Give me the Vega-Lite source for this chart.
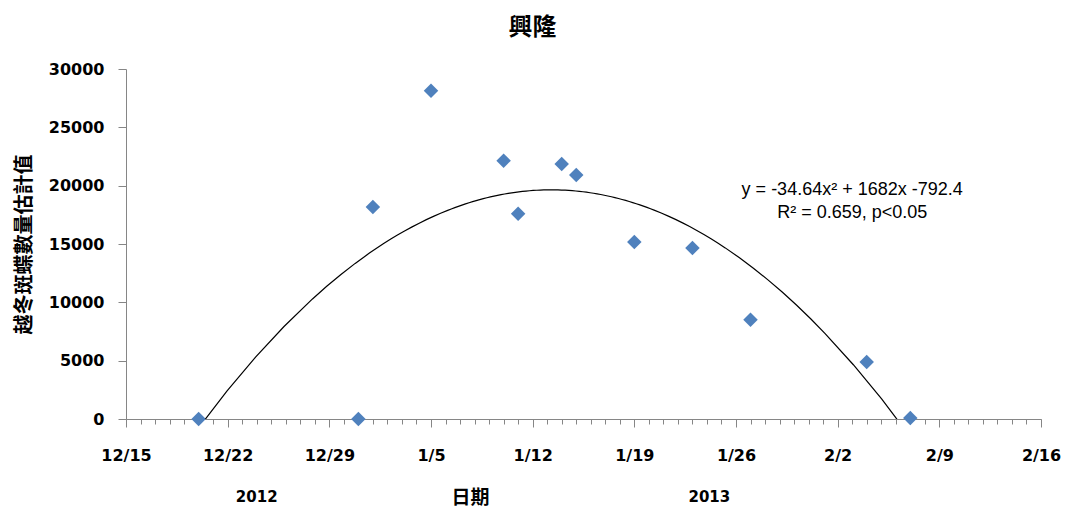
{
  "$schema": "https://vega.github.io/schema/vega-lite/v6.json",
  "width": 915,
  "height": 350,
  "autosize": {"type": "none"},
  "padding": {"left": 126, "top": 69, "right": 26, "bottom": 90},
  "background": "white",
  "config": {"view": {"stroke": null}},
  "title": {
    "text": "興隆",
    "font": "Noto Sans CJK TC",
    "fontSize": 24,
    "fontWeight": "bold",
    "color": "black",
    "dx": -51,
    "baseline": "middle",
    "offset": 9
  },
  "data": {
    "values": [
      {"date": "2012/12/20", "count": 0},
      {"date": "2012/12/31", "count": 0},
      {"date": "2013/01/01", "count": 18170},
      {"date": "2013/01/05", "count": 28140},
      {"date": "2013/01/10", "count": 22140},
      {"date": "2013/01/11", "count": 17600},
      {"date": "2013/01/14", "count": 21860},
      {"date": "2013/01/15", "count": 20910},
      {"date": "2013/01/19", "count": 15170},
      {"date": "2013/01/23", "count": 14660},
      {"date": "2013/01/27", "count": 8510},
      {"date": "2013/02/04", "count": 4890},
      {"date": "2013/02/07", "count": 90}
    ],
    "format": {"parse": {"date": "date"}}
  },
  "resolve": {"axis": {"x": "independent"}},
  "layer": [
    {
      "mark": {"type": "point", "shape": "diamond", "filled": true, "size": 210, "color": "#4F81BD", "opacity": 1},
      "encoding": {
        "x": {
          "field": "date",
          "type": "temporal",
          "scale": {
            "domain": [
              {"year": 2012, "month": 12, "date": 15},
              {"year": 2013, "month": 2, "date": 16}
            ],
            "nice": false
          },
          "axis": {
            "orient": "bottom",
            "tickCount": {"interval": "day", "step": 1},
            "labels": false,
            "tickSize": 5,
            "domainColor": "#868686",
            "tickColor": "#868686",
            "grid": false,
            "title": null
          }
        },
        "y": {
          "field": "count",
          "type": "quantitative",
          "scale": {"domain": [0, 30000], "nice": false},
          "axis": {
            "values": [0, 5000, 10000, 15000, 20000, 25000, 30000],
            "format": "d",
            "tickSize": 8,
            "labelPadding": 14,
            "labelFont": "DejaVu Sans",
            "labelFontWeight": "bold",
            "labelFontSize": 16,
            "labelColor": "black",
            "title": "越冬斑蝶數量估計值",
            "titleFont": "Noto Sans CJK TC",
            "titleFontSize": 20,
            "titleFontWeight": "bold",
            "titleColor": "black",
            "titlePadding": 14,
            "grid": false,
            "domainColor": "#868686",
            "tickColor": "#868686"
          }
        }
      }
    },
    {
      "transform": [
        {"regression": "count", "on": "date", "method": "poly", "order": 2}
      ],
      "mark": {"type": "line", "color": "black", "strokeWidth": 1.2, "clip": true},
      "encoding": {
        "x": {
          "field": "date",
          "type": "temporal",
          "axis": {
            "orient": "bottom",
            "values": [
              {"year": 2012, "month": 12, "date": 15},
              {"year": 2012, "month": 12, "date": 22},
              {"year": 2012, "month": 12, "date": 29},
              {"year": 2013, "month": 1, "date": 5},
              {"year": 2013, "month": 1, "date": 12},
              {"year": 2013, "month": 1, "date": 19},
              {"year": 2013, "month": 1, "date": 26},
              {"year": 2013, "month": 2, "date": 2},
              {"year": 2013, "month": 2, "date": 9},
              {"year": 2013, "month": 2, "date": 16}
            ],
            "format": "%-m/%-d",
            "tickSize": 8,
            "tickColor": "#868686",
            "domain": false,
            "grid": false,
            "labelFont": "DejaVu Sans",
            "labelFontWeight": "bold",
            "labelFontSize": 16,
            "labelColor": "black",
            "labelPadding": 20,
            "labelOverlap": false,
            "labelFlush": false,
            "labelBound": false,
            "title": "日期",
            "titleFont": "Noto Sans CJK TC",
            "titleFontSize": 19,
            "titleFontWeight": "bold",
            "titleColor": "black",
            "titleBaseline": "middle",
            "titleX": 344,
            "titleY": 78
          }
        },
        "y": {"field": "count", "type": "quantitative"}
      }
    },
    {
      "data": {"values": [{}]},
      "mark": {"type": "text", "font": "DejaVu Sans", "fontWeight": "bold", "fontSize": 15, "color": "black", "baseline": "middle", "align": "center"},
      "encoding": {
        "x": {"datum": {"year": 2012, "month": 12, "date": 24}, "type": "temporal", "axis": null},
        "y": {"datum": -6700, "type": "quantitative"},
        "text": {"value": "2012"}
      }
    },
    {
      "data": {"values": [{}]},
      "mark": {"type": "text", "font": "DejaVu Sans", "fontWeight": "bold", "fontSize": 15, "color": "black", "baseline": "middle", "align": "center"},
      "encoding": {
        "x": {"datum": {"year": 2013, "month": 1, "date": 24, "hours": 4}, "type": "temporal", "axis": null},
        "y": {"datum": -6700, "type": "quantitative"},
        "text": {"value": "2013"}
      }
    },
    {
      "data": {"values": [{}]},
      "mark": {"type": "text", "font": "Liberation Sans", "fontSize": 18, "color": "black", "baseline": "middle", "align": "center"},
      "encoding": {
        "x": {"datum": {"year": 2013, "month": 2, "date": 3}, "type": "temporal", "axis": null},
        "y": {"datum": 19600, "type": "quantitative"},
        "text": {"value": "y = -34.64x² + 1682x -792.4"}
      }
    },
    {
      "data": {"values": [{}]},
      "mark": {"type": "text", "font": "Liberation Sans", "fontSize": 18, "color": "black", "baseline": "middle", "align": "center"},
      "encoding": {
        "x": {"datum": {"year": 2013, "month": 2, "date": 3}, "type": "temporal", "axis": null},
        "y": {"datum": 17650, "type": "quantitative"},
        "text": {"value": "R² = 0.659, p<0.05"}
      }
    }
  ]
}
